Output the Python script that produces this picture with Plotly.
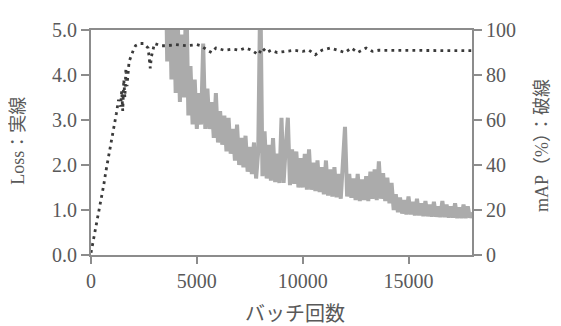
import plotly.graph_objects as go

# ---- data ----
loss_batches = list(range(3500, 18001, 100))
loss_values = [
    7.5, 4.3, 6.5, 3.9, 5.8, 3.6, 5.2, 3.4, 4.9, 3.5,
    6.0, 3.1, 4.2, 2.9, 3.9, 2.8, 3.6, 2.9, 4.7, 2.8,
    3.7, 2.8, 3.4, 2.6, 3.6, 2.5, 3.2, 2.45, 3.1, 2.3,
    3.05, 2.25, 2.8, 2.1, 2.9, 2.0, 2.6, 1.95, 2.65, 1.85,
    2.4, 1.8, 2.5, 1.7, 2.3, 6.0, 1.75, 2.75, 1.7, 2.45,
    1.65, 2.6, 1.62, 2.25, 1.6, 3.05, 1.6, 2.4, 3.05, 1.55,
    2.35, 1.58, 2.3, 1.5, 2.15, 1.5, 2.25, 1.45, 2.35, 1.45,
    2.05, 1.42, 2.1, 1.4, 1.95, 1.35, 2.1, 1.32, 1.9, 1.3,
    1.95, 1.28, 1.8, 1.25, 2.0, 2.85, 1.3, 1.8, 1.27, 1.7,
    1.22, 1.8, 1.2, 1.68, 1.22, 1.75, 1.2, 1.85, 1.25, 1.9,
    1.22, 2.08, 1.25, 1.82, 1.2, 1.72, 1.15, 1.6, 1.0, 1.35,
    0.95, 1.28, 0.92, 1.22, 0.9, 1.3, 0.9, 1.18, 0.88, 1.25,
    0.88, 1.15, 0.86, 1.2, 0.86, 1.12, 0.85, 1.18, 0.85, 1.08,
    0.84, 1.2, 0.84, 1.12, 0.83, 1.08, 0.83, 1.15, 0.82, 1.06,
    0.82, 1.12, 0.82, 1.08, 0.83, 0.95,
]

map_batches = [
    0, 100, 200, 300, 400, 500, 600, 700, 800, 900,
    1000, 1100, 1200, 1300, 1400, 1450, 1500, 1550, 1600, 1650,
    1700, 1800, 1900, 2000, 2100, 2300, 2500, 2700, 2800, 2850,
    2950, 3000, 3300, 3600, 4000, 4500, 5000, 5200, 5500, 5700,
    5900, 6300, 6700, 7000, 7300, 7600, 7900, 8100, 8300, 8500,
    8800, 9200, 9600, 10000, 10300, 10600, 10900, 11300, 11700, 12000,
    12300, 12600, 13000, 13300, 13600, 14000, 14500, 15000, 15500, 16000,
    16500, 17000, 17500, 18000,
]
map_values = [
    1, 6, 10, 16, 21, 26, 31, 37, 42, 47,
    52, 57, 63, 69, 66, 73, 64, 78, 70, 83,
    75, 86, 89, 91, 93, 94, 94, 92, 83, 88,
    92, 94, 93, 93, 93.5, 93, 93.5, 93, 91, 90,
    92, 91, 91.5, 91, 92, 91, 89, 92, 90, 91,
    90, 90.5, 91, 90.5, 91, 89, 91, 92, 91, 90,
    92, 90, 92, 90.5, 91, 91, 91, 91, 91, 91,
    91, 91, 91, 90.8,
]

x_ticks = [0, 5000, 10000, 15000]
x_tick_text = ["0", "5000", "10000", "15000"]
loss_ticks = [0, 1, 2, 3, 4, 5]
loss_tick_text = ["0.0", "1.0", "2.0", "3.0", "4.0", "5.0"]
map_ticks = [0, 20, 40, 60, 80, 100]

TEXT = "#595959"
AXIS = "#8c8c8c"
SERIF = "Liberation Serif, Noto Sans CJK JP, serif"

fig = go.Figure()
fig.add_trace(go.Scatter(
    x=loss_batches, y=loss_values, mode="lines",
    line=dict(color="#ababab", width=4),
    yaxis="y", showlegend=False,
))
fig.add_trace(go.Scatter(
    x=map_batches, y=map_values, mode="lines",
    line=dict(color="#3a3a3a", width=2.8, dash="2.8px,4.2px"),
    yaxis="y2", showlegend=False,
))

fig.update_layout(
    width=553, height=318,
    margin=dict(l=83, r=89, t=11, b=71),
    paper_bgcolor="white", plot_bgcolor="white",
    font=dict(family=SERIF, size=20, color=TEXT),
    xaxis=dict(
        range=[0, 18000], tickvals=x_ticks, ticktext=x_tick_text,
        showgrid=False, zeroline=False,
        showline=True, linecolor=AXIS, linewidth=2, mirror=True,
        ticks="outside", ticklen=7, tickwidth=1.5, tickcolor=AXIS,
        tickfont=dict(family=SERIF, size=20, color=TEXT),
    ),
    yaxis=dict(
        range=[0, 5], tickvals=loss_ticks, ticktext=loss_tick_text,
        showgrid=False, zeroline=False,
        showline=True, linecolor=AXIS, linewidth=2,
        ticks="outside", ticklen=8, tickwidth=1.5, tickcolor=AXIS,
        tickfont=dict(family=SERIF, size=20, color=TEXT),
    ),
    yaxis2=dict(
        range=[0, 100], tickvals=map_ticks, overlaying="y", side="right",
        showgrid=False, zeroline=False,
        showline=True, linecolor=AXIS, linewidth=2,
        ticks="outside", ticklen=8, tickwidth=1.5, tickcolor=AXIS,
        tickfont=dict(family=SERIF, size=20, color=TEXT),
    ),
    annotations=[
        dict(text="バッチ回数", xref="paper", yref="paper", x=0.535, y=-0.254,
             showarrow=False, xanchor="center", yanchor="middle",
             font=dict(family="Noto Sans CJK JP", size=20, color=TEXT)),
        dict(text="Loss：実線", xref="paper", yref="paper", x=-0.1916, y=0.508,
             showarrow=False, xanchor="center", yanchor="middle", textangle=-90,
             font=dict(family=SERIF, size=18, color=TEXT)),
        dict(text="mAP（%）：破線", xref="paper", yref="paper", x=1.185, y=0.487,
             showarrow=False, xanchor="center", yanchor="middle", textangle=-90,
             font=dict(family=SERIF, size=18, color=TEXT)),
    ],
)

fig.write_html("out.html")
